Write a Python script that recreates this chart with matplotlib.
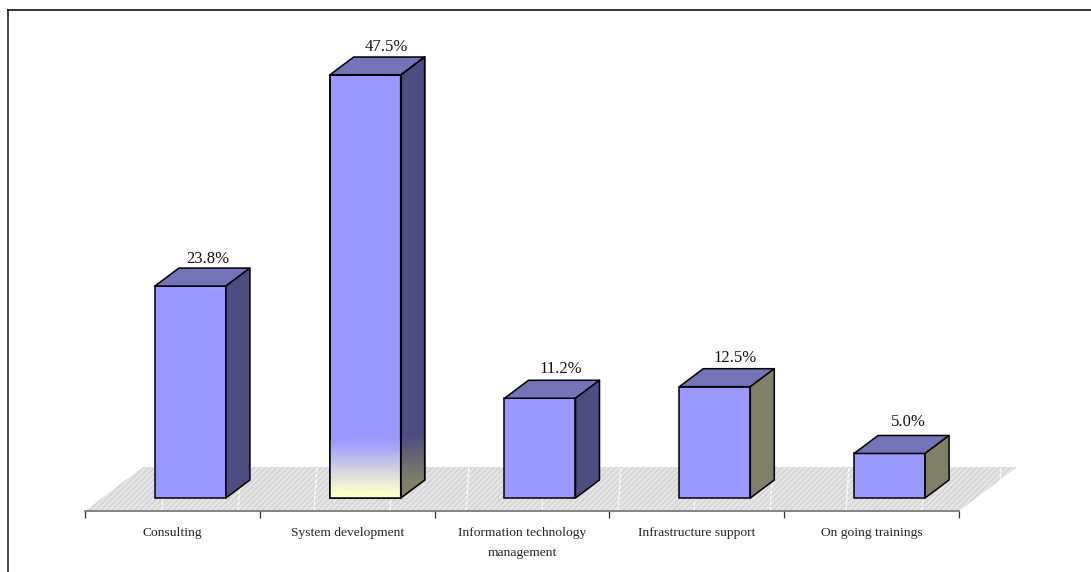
import numpy as np
from matplotlib import pyplot as plt
from matplotlib.lines import Line2D
from matplotlib.patches import Polygon
from matplotlib.colors import LinearSegmentedColormap

categories = ['Consulting', 'System development', 'Information technology\nmanagement',
              'Infrastructure support', 'On going trainings']
values = [23.8, 47.5, 11.2, 12.5, 5.0]
side_colors = ['#4D4D80', '#4D4D80', '#4D4D80', '#808066', '#808066']
label_nudge_x = [-3, 1, 1, 0, -1]
label_nudge_y = [0, 1, 2, 2, 4]

W, H = 1091, 572
px_y = 8.905        # pixels per percent
px_x = 174.8        # pixels per category
base_px = 498       # pixel row of value 0
bar_w = 71 / px_x
bar_shift = 18 / px_x                  # bars stand further back than the tick labels
dx, dy = 24 / px_x, 18 / px_y          # depth of a bar
floor_front = -13 / px_y
floor_dx, floor_dy = 58 / px_x, 44 / px_y

plt.rcParams['font.family'] = ['Liberation Serif', 'DejaVu Serif']
plt.rcParams['hatch.linewidth'] = 0.7

fig = plt.figure(figsize=(W / 100, H / 100), dpi=100)
ax = fig.add_axes([85 / W, 0, 874 / W, 1])
ax.set_xlim(0, 5)
ax.set_ylim(-(H - base_px) / px_y, base_px / px_y)
ax.patch.set_alpha(0)

# floor
floor = Polygon([(0, floor_front), (5, floor_front), (5 + floor_dx, floor_front + floor_dy),
                 (floor_dx, floor_front + floor_dy)], closed=True, facecolor='#E4E4E4',
                edgecolor='#CCCCCC', hatch='//////', clip_on=False, zorder=1, linewidth=0)
ax.add_patch(floor)
# seams of the floor texture
for sx in 77 / px_x + np.arange(12) * 76 / px_x:
    ax.plot([sx, sx + 3 / px_x], [floor_front, floor_front + floor_dy], color='white', lw=1,
            ls=(0, (3, 1)), clip_on=False, zorder=2)

centers = np.arange(len(values)) + 0.5
x = centers + bar_shift
ax.bar(x, values, width=bar_w, color='#9999FF', edgecolor='black', linewidth=1.1, zorder=5)
for xi, v, sc, nx, ny in zip(x, values, side_colors, label_nudge_x, label_nudge_y):
    r = xi + bar_w / 2
    l = xi - bar_w / 2
    ax.add_patch(Polygon([(l, v), (r, v), (r + dx, v + dy), (l + dx, v + dy)], closed=True,
                         facecolor='#7373B8', edgecolor='black', linewidth=1.1, zorder=5,
                         joinstyle='round'))
    ax.add_patch(Polygon([(r, 0), (r, v), (r + dx, v + dy), (r + dx, dy)], closed=True,
                         facecolor=sc, edgecolor='black', linewidth=1.1, zorder=5,
                         joinstyle='round'))
    ax.text(xi + (20 + nx) / px_x, v + dy + (5 + ny) / px_y, '%.1f%%' % v, ha='center', va='baseline',
            fontsize=12, color='#111111', zorder=8)

# fade at the foot of the tallest bar
grad = np.linspace(1, 0, 200).reshape(-1, 1)
front_cmap = LinearSegmentedColormap.from_list('f', [(0, '#FFFFCC'), (0.08, '#FFFFCC'), (1, '#9999FF')])
side_cmap = LinearSegmentedColormap.from_list('s', [(0, '#808066'), (0.28, '#808066'), (1, '#4D4D80')])
i = int(np.argmax(values))
v = values[i]
l, r = x[i] - bar_w / 2, x[i] + bar_w / 2
fade_top = 6.5
side_top = 7.0
ax.imshow(grad, extent=[l, r, 0, fade_top], cmap=front_cmap, aspect='auto', zorder=5.5)
im2 = ax.imshow(grad, extent=[r, r + dx, 0, side_top], cmap=side_cmap, aspect='auto', zorder=5.5)
im2.set_clip_path(Polygon([(r, 0), (r, side_top), (r + dx, side_top), (r + dx, dy)], transform=ax.transData))
# edges again, on top of the fade
ax.add_patch(Polygon([(l, 0), (l, v), (r, v), (r, 0)], closed=True, facecolor='none',
                     edgecolor='black', linewidth=1.1, zorder=6))
ax.add_patch(Polygon([(r, 0), (r, v), (r + dx, v + dy), (r + dx, dy)], closed=True, facecolor='none',
                     edgecolor='black', linewidth=1.1, zorder=6, joinstyle='round'))
ax.set_xlim(0, 5)
ax.set_ylim(-(H - base_px) / px_y, base_px / px_y)

# axis line with ticks at the category edges, labels between them
for s in ['top', 'left', 'right']:
    ax.spines[s].set_visible(False)
ax.spines['bottom'].set_position(('data', floor_front))
ax.spines['bottom'].set_color('#707070')
ax.spines['bottom'].set_linewidth(1.2)
ax.spines['bottom'].set_zorder(7)
ax.set_yticks([])
ax.set_xticks(np.arange(6))
ax.set_xticklabels([])
ax.tick_params(axis='x', which='major', length=5, width=0.9, color='#333333')
ax.set_xticks(centers, minor=True)
ax.set_xticklabels(categories, minor=True, fontsize=9.7, color='#222222', linespacing=1.85)
ax.tick_params(axis='x', which='minor', length=0, pad=11.5)

# outer frame, left and top only
fig.add_artist(Line2D([8 / W, 8 / W], [0, 1 - 9.5 / H], color='#404040', lw=1.4))
fig.add_artist(Line2D([7.5 / W, 1], [1 - 9.5 / H, 1 - 9.5 / H], color='black', lw=1.1))

plt.savefig('out.png', dpi=100)
